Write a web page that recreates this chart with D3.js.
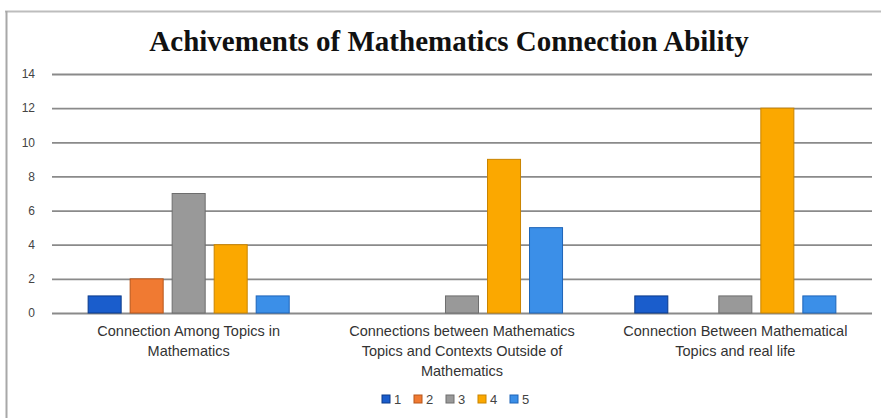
<!DOCTYPE html>
<html>
<head>
<meta charset="utf-8">
<script src="https://cdn.jsdelivr.net/npm/d3@7"></script>
<style>
  body { margin: 0; background: #fff; }
  svg { display: block; }
</style>
</head>
<body>
<div id="container"></div>
<script>
const categories = [
  ["Connection Among Topics in", "Mathematics"],
  ["Connections between Mathematics", "Topics and Contexts Outside of", "Mathematics"],
  ["Connection Between Mathematical", "Topics and real life"]
]
const seriesNames = ["1", "2", "3", "4", "5"]
const values = [
  [1, 2, 7, 4, 1],
  [0, 0, 1, 9, 5],
  [1, 0, 1, 12, 1]
]
const yTicks = [0, 2, 4, 6, 8, 10, 12, 14]
const colors = ["#1a5dcc", "#f07a32", "#999999", "#fba800", "#3b8fe8"]
const strokes = ["#0b3a8a", "#b8561a", "#6e6e6e", "#c98400", "#1e64b8"]

const width = 881
const height = 418
const plotLeft = 52, plotRight = 872, plotTop = 74, plotBottom = 313

const svg = d3.select('#container').append('svg')
  .attr('width', width)
  .attr('height', height)

// frame
svg.append('line').attr('x1', 5).attr('x2', width).attr('y1', 11.5).attr('y2', 11.5)
  .attr('stroke', '#bdbdbd').attr('stroke-width', 2)
svg.append('line').attr('x1', 6.5).attr('x2', 6.5).attr('y1', 11).attr('y2', height)
  .attr('stroke', '#a8a8a8').attr('stroke-width', 2)

svg.append('text')
  .attr('x', 449).attr('y', 51)
  .attr('text-anchor', 'middle')
  .attr('font-family', 'Liberation Serif, serif')
  .attr('font-weight', 'bold')
  .attr('font-size', 29)
  .attr('fill', '#111')
  .text('Achivements of Mathematics Connection Ability')

const yScale = d3.scaleLinear().domain([0, 14]).range([plotBottom, plotTop])
const xScale = d3.scaleBand().domain(d3.range(categories.length)).range([plotLeft, plotRight])
const inner = d3.scaleBand().domain(seriesNames).range([0, xScale.bandwidth()])
  .paddingInner(0.214).paddingOuter(0.86)

const yAxis = d3.axisLeft(yScale).tickValues(yTicks).tickSize(-(plotRight - plotLeft)).tickPadding(17)
svg.append('g')
  .attr('transform', `translate(${plotLeft}, 0)`)
  .call(yAxis)
  .call(g => g.select('.domain').remove())
  .call(g => g.selectAll('.tick line').attr('stroke', '#8a8a8a').attr('stroke-width', 1.8))
  .call(g => g.selectAll('.tick text').attr('font-family', 'Liberation Sans, sans-serif')
    .attr('font-size', 12).attr('fill', '#444'))

const groups = svg.selectAll('g.cat')
  .data(values)
  .enter()
  .append('g')
  .attr('class', 'cat')
  .attr('transform', (d, i) => `translate(${xScale(i)}, 0)`)

groups.selectAll('rect')
  .data(d => d.map((v, j) => ({v, j})).filter(o => o.v > 0))
  .enter()
  .append('rect')
  .attr('x', o => inner(seriesNames[o.j]))
  .attr('y', o => yScale(o.v))
  .attr('width', inner.bandwidth())
  .attr('height', o => yScale(0) - yScale(o.v))
  .attr('fill', o => colors[o.j])
  .attr('stroke', o => strokes[o.j])
  .attr('stroke-width', 1)

// category labels
categories.forEach((lines, i) => {
  const t = svg.append('text')
    .attr('x', xScale(i) + xScale.bandwidth() / 2)
    .attr('y', 336)
    .attr('text-anchor', 'middle')
    .attr('font-family', 'Liberation Sans, sans-serif')
    .attr('font-size', 14.5)
    .attr('fill', '#333')
  lines.forEach((l, k) => {
    t.append('tspan').attr('x', xScale(i) + xScale.bandwidth() / 2)
      .attr('dy', k === 0 ? 0 : 20).text(l)
  })
})

// legend
const legend = svg.append('g').attr('transform', 'translate(382, 399)')
seriesNames.forEach((s, i) => {
  const g = legend.append('g').attr('transform', `translate(${i * 32}, 0)`)
  g.append('rect').attr('x', 0).attr('y', -4).attr('width', 8).attr('height', 8)
    .attr('fill', colors[i]).attr('stroke', strokes[i])
  g.append('text').attr('x', 12).attr('y', 5)
    .attr('font-family', 'Liberation Sans, sans-serif').attr('font-size', 13)
    .attr('fill', '#444').text(s)
})
</script>
</body>
</html>
